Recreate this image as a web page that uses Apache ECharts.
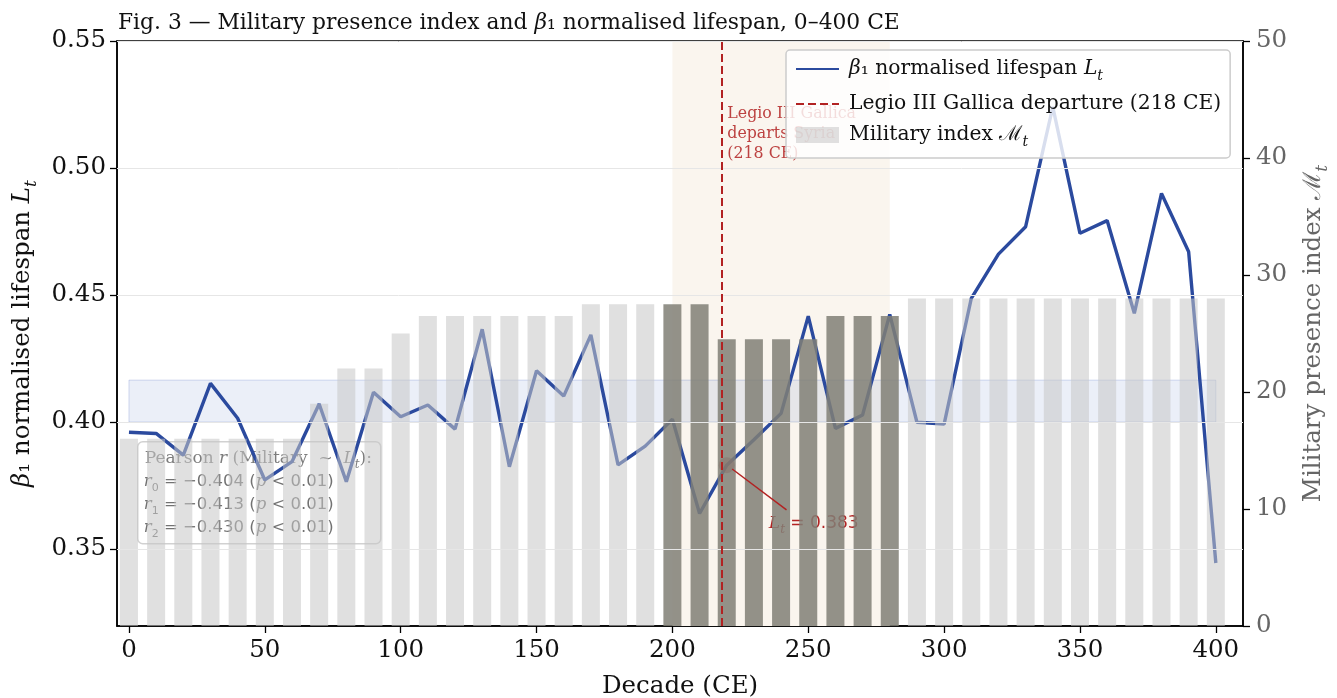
<!DOCTYPE html>
<html>
<head>
<meta charset="utf-8">
<script src="https://cdn.jsdelivr.net/npm/echarts@6/dist/echarts.min.js"></script>
<style>html,body{margin:0;padding:0;background:#fff;}#c{width:1337px;height:698px;}</style>
</head>
<body>
<div id="c"></div>
<script>
// ---------------- data ----------------
const decades = [0,10,20,30,40,50,60,70,80,90,100,110,120,130,140,150,160,170,180,190,200,
                 210,220,230,240,250,260,270,280,290,300,310,320,330,340,350,360,370,380,390,400];
const lifespan = [0.396,0.3955,0.387,0.4152,0.4015,0.3772,0.3844,0.4071,0.3765,0.4117,0.4021,
                  0.4067,0.3972,0.4365,0.3824,0.4202,0.4102,0.4343,0.3831,0.3905,0.4011,
                  0.364,0.383,0.393,0.4034,0.4417,0.3975,0.4028,0.4424,0.3999,0.3992,
                  0.4487,0.4661,0.4769,0.5241,0.4743,0.4793,0.4428,0.490,0.467,0.3445];
const military = [16,16,16,16,16,16,16,19,22,22,25,26.5,26.5,26.5,26.5,26.5,26.5,27.5,27.5,27.5,27.5,
                  27.5,24.5,24.5,24.5,24.5,26.5,26.5,26.5,28,28,28,28,28,28,28,28,28,28,28,28];
const highlightRange = [200, 280];
const departureYear = 218;
const annotatedDecade = 220;
const baselineBand = [0.400, 0.4165];
const xTicks = [0,50,100,150,200,250,300,350,400];
const yTicksLeft = [0.35,0.40,0.45,0.50,0.55];
const pearsonR = [-0.404,-0.413,-0.430];
const pearsonP = ['< 0.01','< 0.01','< 0.01'];

// ---------------- styles ----------------
const SERIF = 'DejaVu Serif';
const SANS = 'DejaVu Sans';
const BLUE = '#2b4a9e';
const RED = '#b22222';
const TICK_FS = 24.5;
const NAME_FS = 24.5;

const chart = echarts.init(document.getElementById('c'), null, {renderer:'canvas'});

const linePts = decades.map((d,i)=>[d, lifespan[i]]);
const barPts = decades.map((d,i)=>{
  const inHl = d >= highlightRange[0] && d <= highlightRange[1];
  return {value:[d, military[i]], itemStyle: inHl ? {color:'rgb(128,127,118)', opacity:0.85} : {color:'rgb(198,198,198)', opacity:0.55}};
});
const aIdx = decades.indexOf(annotatedDecade);
const aVal = lifespan[aIdx];

function richSet(fs, color){
  return {
    i:{fontStyle:'italic', fontFamily:SERIF, fontSize:fs, color:color},
    s:{fontStyle:'italic', fontFamily:SERIF, fontSize:Math.round(fs*0.7), color:color, verticalAlign:'bottom', padding:[0,0,-Math.round(fs*0.22),0]}
  };
}

const option = {
  animation:false,
  backgroundColor:'#fff',
  title:{
    text:'Fig. 3 — Military presence index and {i|β}₁ normalised lifespan, 0–400 CE',
    left:113, top:7,
    textStyle:{fontFamily:SERIF, fontSize:21.8, fontWeight:'normal', color:'#111', rich:richSet(21.8,'#111')}
  },
  grid:{left:117, right:94, top:41, bottom:72, show:true, borderColor:'#000', borderWidth:1.5, backgroundColor:'transparent',
        containLabel:false, outerBoundsMode:'none'},
  legend:{
    orient:'vertical', left:786, top:50,
    padding:[9,9,9,9], itemGap:11, itemWidth:43, itemHeight:16,
    backgroundColor:'rgba(255,255,255,0.82)', borderColor:'#cccccc', borderWidth:1.5, borderRadius:4,
    z:20,
    data:[
      {name:'beta', itemStyle:{opacity:0}},
      {name:'dep', itemStyle:{opacity:0}},
      {name:'mil', icon:'rect'}
    ],
    formatter:function(n){
      if(n==='beta') return '{i|β}₁ normalised lifespan {i|L}{s|t}';
      if(n==='dep') return 'Legio III Gallica departure ('+departureYear+' CE)';
      return 'Military index ℳ{s|t}';
    },
    textStyle:{fontFamily:SERIF, fontSize:20.3, color:'#111', padding:[0,0,0,5], rich:richSet(20.3,'#111')}
  },
  xAxis:{
    type:'value', min:-4.4, max:410,
    name:'Decade (CE)', nameLocation:'middle', nameGap:48,
    nameTextStyle:{fontFamily:SERIF, fontSize:NAME_FS, color:'#111'},
    axisLine:{show:true, onZero:false, lineStyle:{color:'#000', width:1.5}},
    axisTick:{show:true, customValues:xTicks, length:7, lineStyle:{color:'#000', width:1.3}},
    axisLabel:{customValues:xTicks, fontFamily:SERIF, fontSize:TICK_FS, color:'#111', margin:12},
    splitLine:{show:false}
  },
  yAxis:[{
    type:'value', min:0.3197, max:0.55, position:'left',
    name:'{i|β}₁ normalised lifespan {i|L}{s|t}', nameLocation:'middle', nameGap:77, nameRotate:90,
    nameTextStyle:{fontFamily:SERIF, fontSize:NAME_FS, color:'#111', rich:richSet(NAME_FS,'#111')},
    axisLine:{show:true, onZero:false, lineStyle:{color:'#000', width:1.5}},
    axisTick:{show:true, customValues:yTicksLeft, length:7, lineStyle:{color:'#000', width:1.3}},
    axisLabel:{customValues:yTicksLeft, formatter:v=>Number(v).toFixed(2), fontFamily:SERIF, fontSize:TICK_FS, color:'#111', margin:11},
    splitLine:{show:false}
  },{
    type:'value', min:0, max:50, interval:10, position:'right',
    name:'Military presence index ℳ{s|t}', nameLocation:'middle', nameGap:58, nameRotate:90,
    nameTextStyle:{fontFamily:SERIF, fontSize:NAME_FS, color:'#666', rich:richSet(NAME_FS,'#666')},
    axisLine:{show:true, onZero:false, lineStyle:{color:'#000', width:1.5}},
    axisTick:{show:true, length:7, lineStyle:{color:'#000', width:1.3}},
    axisLabel:{fontFamily:SERIF, fontSize:TICK_FS, color:'#666', margin:13},
    splitLine:{show:false}
  }],
  series:[
    { // background helpers: grid lines, highlight band, baseline band
      name:'bg', type:'line', data:[], z:1, silent:true,
      markArea:{silent:true, data:[
        [{xAxis:highlightRange[0], itemStyle:{color:'#faf5ee'}},{xAxis:highlightRange[1]}],
        [{xAxis:decades[0], yAxis:baselineBand[1], itemStyle:{color:'rgba(90,120,200,0.12)', borderColor:'rgba(90,120,200,0.25)', borderWidth:1}},{xAxis:decades[decades.length-1], yAxis:baselineBand[0]}]
      ]},
      markLine:{silent:true, symbol:'none', label:{show:false}, lineStyle:{color:'#e6e6e6', width:1, type:'solid'},
        data: yTicksLeft.map(v=>({yAxis:v}))}
    },
    {
      name:'beta', type:'line', data:linePts, yAxisIndex:0, z:3,
      symbol:'none', showSymbol:false,
      lineStyle:{color:BLUE, width:3.4}, itemStyle:{color:BLUE}
    },
    {
      name:'dep', type:'line', data:[], z:2, yAxisIndex:0,
      symbol:'none',
      lineStyle:{color:RED, width:2.2, type:[8,4]}, itemStyle:{color:RED},
      markLine:{silent:true, symbol:'none', label:{show:false},
        lineStyle:{color:RED, width:2, type:[8,4]},
        data:[{xAxis:departureYear}]}
    },
    {
      name:'ann', type:'scatter', z:3, yAxisIndex:0,
      data:[[annotatedDecade, aVal]], symbolSize:16,
      itemStyle:{color:'rgba(178,34,34,0.6)'},
      markLine:{silent:true, symbol:['none','arrow'], symbolSize:[0,11], label:{show:false},
        lineStyle:{color:RED, width:1.5, type:'solid'},
        data:[[{coord:[annotatedDecade+22, aVal-0.0176]},{coord:[annotatedDecade+2, aVal-0.0015]}]]}
    },
    {
      name:'mil', type:'bar', data:barPts, yAxisIndex:1, z:4,
      barWidth:18, itemStyle:{color:'rgb(198,198,198)', opacity:0.55}
    }
  ]
};
chart.setOption(option);

// annotations positioned from data coordinates
const pDep = chart.convertToPixel({xAxisIndex:0, yAxisIndex:0}, [departureYear, 0.5256]);
const pAnn = chart.convertToPixel({xAxisIndex:0, yAxisIndex:0}, [annotatedDecade+15.5, aVal-0.0228]);
const pearsonLines = pearsonR.map((r,i)=>'{i|r}{s|'+i+'} = −'+Math.abs(r).toFixed(3)+' ({i|p} '+pearsonP[i]+')');

chart.setOption({graphic:[
  {type:'text', z:5, x:pDep[0]+6, y:pDep[1]+1,
   style:{text:'Legio III Gallica\ndeparts Syria\n('+departureYear+' CE)', fill:'rgba(178,34,34,0.85)', font:'15.8px "DejaVu Serif"', lineHeight:20}},
  {type:'text', z:3, x:pAnn[0], y:pAnn[1],
   style:{text:'{i|L}{s|t} = '+aVal.toFixed(3), fill:RED, font:'17px "DejaVu Sans"', verticalAlign:'middle',
     rich:{i:{fontStyle:'italic', font:'italic 17px "DejaVu Serif"', fill:RED}, s:{font:'italic 12px "DejaVu Serif"', fill:RED, verticalAlign:'bottom', padding:[0,0,-4,0]}}}},
  {type:'group', left:137, top:441, z:6, children:[
    {type:'rect', shape:{x:0,y:0,width:243,height:102,r:5}, style:{fill:'rgba(255,255,255,0.35)', stroke:'rgba(190,190,190,0.7)', lineWidth:1.5}},
    {type:'text', x:7, y:8, style:{text:'Pearson {i|r} (Military  ~  {i|L}{s|t}):', fill:'rgba(70,70,70,0.7)', font:'17px "DejaVu Serif"',
      rich:{i:{font:'italic 17px "DejaVu Serif"', fill:'rgba(70,70,70,0.7)'}, s:{font:'italic 12px "DejaVu Serif"', fill:'rgba(70,70,70,0.7)', verticalAlign:'bottom', padding:[0,0,-4,0]}}}},
    ...pearsonLines.map((t,i)=>({type:'text', x:6, y:31+i*23, style:{text:t, fill:'rgba(60,60,60,0.72)', font:'16.5px "DejaVu Sans"',
      rich:{i:{font:'italic 16.5px "DejaVu Serif"', fill:'rgba(60,60,60,0.72)'}, s:{font:'11px "DejaVu Sans"', fill:'rgba(60,60,60,0.72)', verticalAlign:'bottom', padding:[0,0,-4,0]}}}}))
  ]}
]});
</script>
</body>
</html>
